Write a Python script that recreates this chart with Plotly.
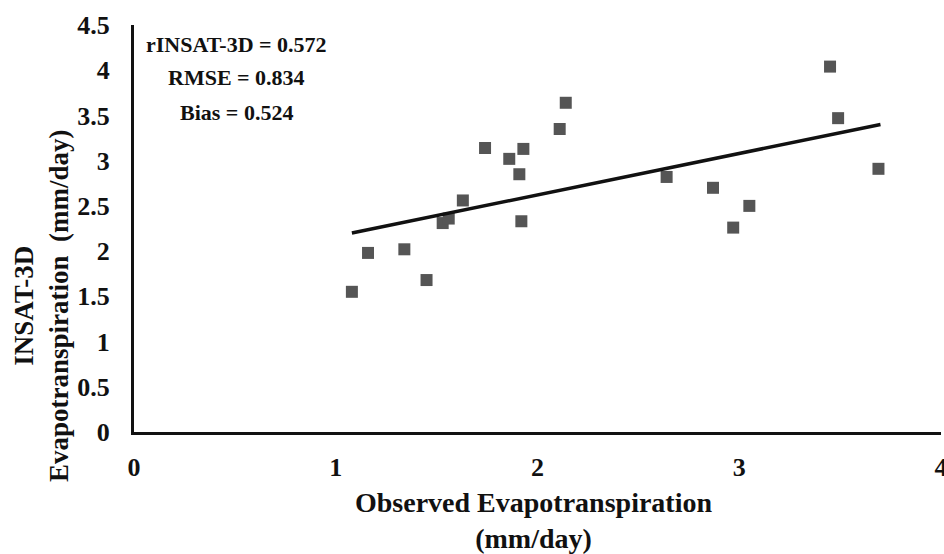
import plotly.graph_objects as go

# Data
observed = [1.08, 1.16, 1.34, 1.45, 1.53, 1.56, 1.63, 1.74, 1.86, 1.93, 1.91, 1.92,
            2.11, 2.14, 2.64, 2.87, 2.97, 3.05, 3.45, 3.49, 3.69]
insat = [1.55, 1.98, 2.02, 1.68, 2.31, 2.36, 2.56, 3.14, 3.02, 3.13, 2.85, 2.33,
         3.35, 3.64, 2.82, 2.70, 2.26, 2.50, 4.04, 3.47, 2.91]
trend_x = [1.08, 3.70]
trend_y = [2.20, 3.40]
x_ticks = [0, 1, 2, 3, 4]
y_ticks = [0, 0.5, 1, 1.5, 2, 2.5, 3, 3.5, 4, 4.5]
y_tick_labels = ["0", "0.5", "1", "1.5", "2", "2.5", "3", "3.5", "4", "4.5"]
stats_lines = ["rINSAT-3D = 0.572", "RMSE = 0.834", "Bias = 0.524"]
stats_y = [4.28, 3.92, 3.53]

FONT = "Liberation Serif"
INK = "#111111"

fig = go.Figure()
fig.add_trace(go.Scatter(
    x=observed, y=insat, mode="markers",
    marker=dict(symbol="square", size=12, color="#555555"),
    showlegend=False,
))
fig.add_trace(go.Scatter(
    x=trend_x, y=trend_y, mode="lines",
    line=dict(color=INK, width=3.5),
    showlegend=False,
))

annotations = [
    dict(text=t, x=0.51, y=yv, xref="x", yref="y",
         showarrow=False, align="center", xanchor="center", yanchor="middle",
         font=dict(family=FONT, size=22, color=INK, weight="bold"))
    for t, yv in zip(stats_lines, stats_y)
]
annotations += [
    dict(text="Observed Evapotranspiration<br>(mm/day)",
         x=(533 - 134) / 807, y=(432 - 520) / 407, xref="paper", yref="paper",
         showarrow=False, align="center", xanchor="center", yanchor="middle",
         font=dict(family=FONT, size=28, color=INK, weight="bold")),
    dict(text="INSAT-3D<br>Evapotranspiration&nbsp;&nbsp;(mm/day)",
         x=(41 - 134) / 807, y=(432 - 306) / 407, xref="paper", yref="paper",
         textangle=-90,
         showarrow=False, align="center", xanchor="center", yanchor="middle",
         font=dict(family=FONT, size=27, color=INK, weight="bold")),
]

fig.update_layout(
    width=944, height=554,
    margin=dict(l=134, r=3, t=25, b=122, autoexpand=False),
    paper_bgcolor="white", plot_bgcolor="white",
    font=dict(family=FONT, color=INK, size=26),
    xaxis=dict(
        range=[0, 4], tickvals=x_ticks, showgrid=False, zeroline=False,
        showline=True, linecolor=INK, linewidth=3,
        ticks="outside", ticklen=10, tickcolor="rgba(0,0,0,0)",
        ticklabeloverflow="allow", automargin=False,
        tickfont=dict(family=FONT, size=26, color=INK, weight="bold"),
    ),
    yaxis=dict(
        range=[0, 4.5], tickvals=y_ticks, ticktext=y_tick_labels,
        showgrid=False, zeroline=False, automargin=False,
        showline=True, linecolor=INK, linewidth=3,
        ticks="outside", ticklen=16, tickcolor="rgba(0,0,0,0)",
        tickfont=dict(family=FONT, size=26, color=INK, weight="bold"),
    ),
    annotations=annotations,
)

fig.write_html("out.html")
